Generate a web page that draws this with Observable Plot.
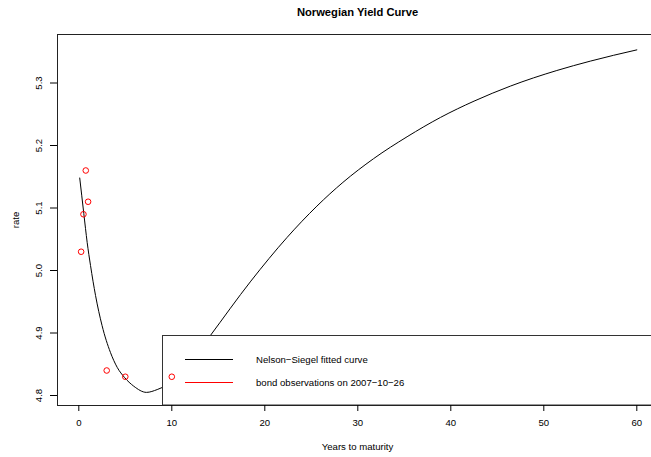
<!DOCTYPE html>
<html><head><meta charset="utf-8">
<script src="https://cdn.jsdelivr.net/npm/d3@7"></script>
<script src="https://cdn.jsdelivr.net/npm/@observablehq/plot@0.6"></script>
<style>body{margin:0;background:#fff} svg{display:block}</style>
</head><body><div id="chart"></div>
<script>
const title = "Norwegian Yield Curve";
const xLabel = "Years to maturity";
const yLabel = "rate";
const xTicks = [0, 10, 20, 30, 40, 50, 60];
const yTicks = [4.8, 4.9, 5.0, 5.1, 5.2, 5.3];
const bondMaturity = [0.25, 0.5, 0.75, 1, 3, 5, 10];
const bondRate = [5.03, 5.09, 5.16, 5.11, 4.84, 4.83, 4.83];
const curveMaturity = [0.1, 0.54, 0.9, 1.26, 1.8, 2.5, 3.4, 4.13, 4.91, 5.9, 7.28, 8.43, 9, 10, 12, 14.1, 18.5, 22.4, 25.6, 28.4, 31.7, 35.3, 38.9, 42.5, 46.4, 51.4, 55, 60];
const curveRate = [5.148, 5.091, 5.045, 5.008, 4.960, 4.912, 4.869, 4.845, 4.829, 4.815, 4.805, 4.8095, 4.813, 4.821, 4.853, 4.895, 4.983, 5.053, 5.103, 5.141, 5.179, 5.214, 5.245, 5.271, 5.295, 5.320, 5.335, 5.353];
const legendLabels = ["Nelson\u2212Siegel fitted curve", "bond observations on 2007\u221210\u221226"];
const legendColors = ["black", "red"];

const xDomain = [-2.29, 61.58];
const yDomain = [4.784, 5.3776];

const bonds = bondMaturity.map((m, i) => ({maturity: m, rate: bondRate[i]}));
const curve = curveMaturity.map((m, i) => ({maturity: m, rate: curveRate[i]}));

const font = "Liberation Sans, Arial, Helvetica, sans-serif";

function legendMark() {
  const g = d3.create("svg:g");
  g.append("rect")
    .attr("x", 162.5).attr("y", 335.5).attr("width", 520).attr("height", 69.5)
    .attr("fill", "white").attr("stroke", "#333").attr("stroke-width", 1);
  const rows = [359.5, 382.5];
  legendLabels.forEach((lab, i) => {
    g.append("line")
      .attr("x1", 185).attr("x2", 233).attr("y1", rows[i]).attr("y2", rows[i])
      .attr("stroke", legendColors[i]).attr("stroke-width", 1);
    g.append("text")
      .attr("x", 256).attr("y", rows[i]).attr("dy", "0.35em")
      .attr("text-anchor", "start")
      .attr("font-size", 9.6).attr("font-family", font).attr("fill", "black")
      .text(lab);
  });
  return g.node();
}

const chart = Plot.plot({
  width: 651,
  height: 457,
  marginLeft: 57,
  marginRight: 0,
  marginTop: 34,
  marginBottom: 52,
  style: {fontFamily: font, fontSize: "9.6px", background: "white", color: "black"},
  x: {domain: xDomain},
  y: {domain: yDomain},
  marks: [
    Plot.line(curve, {x: "maturity", y: "rate", curve: "monotone-x", stroke: "black", strokeWidth: 1}),
    legendMark,
    Plot.dot(bonds, {x: "maturity", y: "rate", r: 2.8, stroke: "red", fill: "none", strokeWidth: 1}),
    Plot.ruleY([yDomain[1], yDomain[0]], {stroke: "#222", strokeWidth: 1}),
    Plot.ruleX([xDomain[0]], {stroke: "#222", strokeWidth: 1}),
    Plot.axisX(xTicks, {tickSize: 6, tickPadding: 8, label: null, fontSize: 9.6, stroke: "black"}),
    Plot.axisY(yTicks, {tickSize: 7, tickFormat: () => "", label: null, stroke: "black"}),
    Plot.text(yTicks, {y: d => d, text: d => d3.format(".1f")(d), frameAnchor: "left", dx: -18.7, rotate: -90, textAnchor: "middle", lineAnchor: "middle", fontSize: 9.6, fill: "black"}),
    Plot.text([title], {frameAnchor: "top", dx: 3, dy: -21.7, lineAnchor: "middle", fontWeight: "bold", fontSize: 11.2, fill: "black"}),
    Plot.text([xLabel], {frameAnchor: "bottom", dx: 3, dy: 41.7, lineAnchor: "middle", fontSize: 9.6, fill: "black"}),
    Plot.text([yLabel], {frameAnchor: "left", dx: -41.3, rotate: -90, textAnchor: "middle", lineAnchor: "middle", fontSize: 9.6, fill: "black"})
  ]
});
document.getElementById("chart").appendChild(chart);
</script>
</body></html>
